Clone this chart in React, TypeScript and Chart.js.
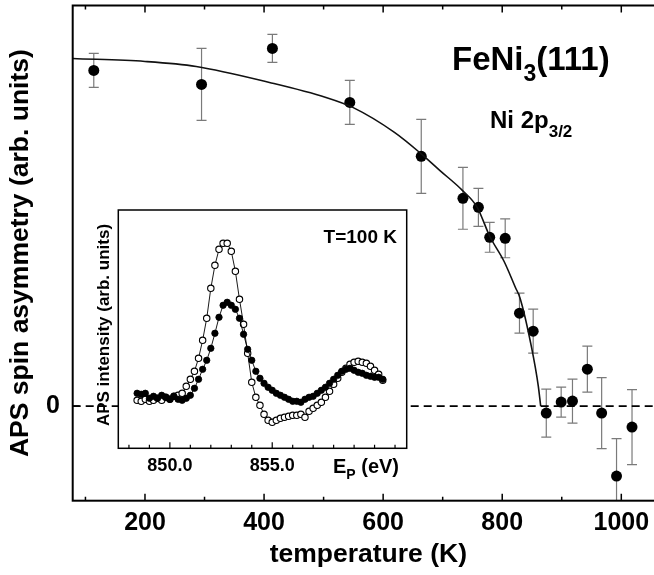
import React, { useEffect, useRef } from "react";
import { Chart, registerables } from "chart.js";
Chart.register(...registerables);

// ---- main panel data ----
const tempK = [114, 295, 414, 544, 664, 734, 760, 779, 805, 829, 852, 874, 899, 918, 943, 967, 992, 1018];
const asym = [33.6, 32.2, 35.8, 30.4, 25.0, 20.8, 19.9, 16.9, 16.8, 9.3, 7.5, -0.7, 0.4, 0.5, 3.7, -0.7, -7.0, -2.1];
const asymErr = [1.7, 3.6, 1.4, 2.2, 3.7, 3.1, 1.9, 1.5, 1.95, 2.0, 2.2, 2.4, 1.5, 2.2, 2.3, 3.55, 3.75, 3.75];
const fitT = [78.6, 200, 286, 409, 504, 549, 619, 663, 695, 733, 758, 779, 803, 822, 830, 849.5, 860.6, 864.6];
const fitA = [34.8, 34.5, 34.0, 32.4, 30.9, 29.9, 27.4, 25.3, 23.6, 21.6, 19.9, 17.0, 14.5, 11.9, 10.8, 5.8, 2.0, 0];
const xMajorTicks = [200, 400, 600, 800, 1000];
const xMinorTicks = [100, 300, 500, 700, 900];
const yTickLabels = [0];
const xRange = [78.6, 1065];
const yRange = [-9.47, 40.1];

// ---- inset data ----
const energy = [
  848.4, 848.6, 848.8, 849.0, 849.2, 849.4, 849.6, 849.8, 850.0, 850.2,
  850.4, 850.6, 850.8, 851.0, 851.2, 851.4, 851.6, 851.8, 852.0, 852.2,
  852.4, 852.6, 852.8, 853.0, 853.2, 853.4, 853.6, 853.8, 854.0, 854.2,
  854.4, 854.6, 854.8, 855.0, 855.2, 855.4, 855.6, 855.8, 856.0, 856.2,
  856.4, 856.6, 856.8, 857.0, 857.2, 857.4, 857.6, 857.8, 858.0, 858.2,
  858.4, 858.6, 858.8, 859.0, 859.2, 859.4, 859.6, 859.8, 860.0, 860.2, 860.4,
];
const openInt = [
  48, 47, 49, 47, 48, 50, 48, 51, 49, 52,
  53, 55, 62, 69, 77, 90, 108, 130, 160, 183,
  199, 205, 205, 197, 177, 149, 124, 95, 66, 51,
  43, 34, 28, 26, 28, 30, 31, 32, 33, 33,
  34, 31, 37, 40, 43, 46, 51, 57, 64, 70,
  76, 80, 84, 86, 87, 86, 85, 82, 78, 74, 68,
];
const filledInt = [
  55, 54, 55, 50, 52, 50, 53, 51, 49, 52,
  49, 48, 50, 53, 60, 69, 79, 88, 100, 115,
  131, 143, 146, 143, 139, 130, 114, 99, 88, 77,
  70, 65, 61, 58, 55, 53, 51, 49, 47, 47,
  46, 49, 51, 52, 55, 58, 61, 65, 69, 73,
  77, 79, 80, 78, 76, 75, 73, 72, 71, 71, 69,
];
const insetTicks = [848, 849, 850, 851, 852, 853, 854, 855, 856, 857, 858, 859, 860, 861];
const insetLabels = [850, 855];
const insetXRange = [847.48, 861.57];
const insetYRange = [0, 238.3];

const FONT = '"Liberation Sans", Arial, Helvetica, sans-serif';

export default function App() {
  const mainRef = useRef<HTMLCanvasElement>(null);
  const insetRef = useRef<HTMLCanvasElement>(null);

  useEffect(() => {
    const mainDecor = {
      id: "mainDecor",
      beforeDatasetsDraw(chart: any) {
        const { ctx, chartArea: a, scales } = chart;
        const xs = scales.x, ys = scales.y;
        ctx.save();
        ctx.beginPath();
        ctx.rect(a.left, a.top, a.right - a.left, a.bottom - a.top);
        ctx.clip();
        ctx.strokeStyle = "#7a7a7a";
        ctx.lineWidth = 1.2;
        tempK.forEach((t, i) => {
          const x = xs.getPixelForValue(t);
          const y1 = ys.getPixelForValue(asym[i] + asymErr[i]);
          const y2 = ys.getPixelForValue(asym[i] - asymErr[i]);
          ctx.beginPath();
          ctx.moveTo(x, y1); ctx.lineTo(x, y2);
          ctx.moveTo(x - 5, y1); ctx.lineTo(x + 5, y1);
          ctx.moveTo(x - 5, y2); ctx.lineTo(x + 5, y2);
          ctx.stroke();
        });
        ctx.restore();
      },
      afterDraw(chart: any) {
        const { ctx, chartArea: a, scales } = chart;
        const xs = scales.x, ys = scales.y;
        ctx.save();
        ctx.strokeStyle = "#000";
        ctx.lineWidth = 2;
        ctx.strokeRect(a.left, a.top, a.right - a.left, a.bottom - a.top);
        ctx.lineWidth = 1.5;
        ctx.beginPath();
        xMajorTicks.forEach((t) => {
          const x = xs.getPixelForValue(t);
          ctx.moveTo(x, a.bottom); ctx.lineTo(x, a.bottom - 7);
          ctx.moveTo(x, a.top); ctx.lineTo(x, a.top + 7);
        });
        xMinorTicks.forEach((t) => {
          const x = xs.getPixelForValue(t);
          ctx.moveTo(x, a.bottom); ctx.lineTo(x, a.bottom - 4);
          ctx.moveTo(x, a.top); ctx.lineTo(x, a.top + 4);
        });
        yTickLabels.forEach((v) => {
          const y = ys.getPixelForValue(v);
          ctx.moveTo(a.left, y); ctx.lineTo(a.left + 7, y);
        });
        ctx.stroke();

        ctx.fillStyle = "#000";
        ctx.font = `bold 25px ${FONT}`;
        ctx.textAlign = "center";
        ctx.textBaseline = "middle";
        xMajorTicks.forEach((t) => {
          ctx.fillText(String(t), xs.getPixelForValue(t), 523);
        });
        ctx.textAlign = "right";
        yTickLabels.forEach((v) => {
          ctx.fillText(String(v), 60, ys.getPixelForValue(v));
        });
        ctx.font = `bold 26.5px ${FONT}`;
        ctx.textAlign = "center";
        ctx.fillText("temperature (K)", (a.left + a.right) / 2 + 2, 555);
        ctx.save();
        ctx.translate(21, (a.top + a.bottom) / 2);
        ctx.rotate(-Math.PI / 2);
        ctx.fillText("APS spin asymmetry (arb. units)", 0, 0);
        ctx.restore();

        // label FeNi3(111)
        ctx.textAlign = "left";
        ctx.textBaseline = "alphabetic";
        let x = 452;
        ctx.font = `bold 33px ${FONT}`;
        ctx.fillText("FeNi", x, 70);
        x += ctx.measureText("FeNi").width;
        ctx.font = `bold 23px ${FONT}`;
        ctx.fillText("3", x, 81);
        x += ctx.measureText("3").width;
        ctx.font = `bold 33px ${FONT}`;
        ctx.fillText("(111)", x, 70);

        x = 490;
        ctx.font = `bold 24px ${FONT}`;
        ctx.fillText("Ni 2p", x, 128);
        x += ctx.measureText("Ni 2p").width;
        ctx.font = `bold 17px ${FONT}`;
        ctx.fillText("3/2", x, 137);
        ctx.restore();
      },
    };

    const main = new Chart(mainRef.current!, {
      type: "scatter",
      data: {
        datasets: [
          {
            type: "line",
            data: xRange.map((t) => ({ x: t, y: yTickLabels[0] })),
            borderColor: "#000",
            borderWidth: 1.6,
            borderDash: [8, 5],
            pointRadius: 0,
          } as any,
          {
            type: "line",
            data: fitT.map((t, i) => ({ x: t, y: fitA[i] })),
            borderColor: "#111",
            borderWidth: 1.6,
            pointRadius: 0,
            cubicInterpolationMode: "monotone",
          } as any,
          {
            data: tempK.map((t, i) => ({ x: t, y: asym[i] })),
            backgroundColor: "#000",
            borderColor: "#000",
            pointRadius: 5.5,
            borderWidth: 0,
          },
        ],
      },
      options: {
        animation: false,
        responsive: false,
        devicePixelRatio: 1,
        layout: { padding: { left: 72.7, right: 40, top: 5, bottom: 74.3 } },
        plugins: { legend: { display: false }, tooltip: { enabled: false } },
        scales: {
          x: { type: "linear", min: xRange[0], max: xRange[1], display: false },
          y: { type: "linear", min: yRange[0], max: yRange[1], display: false },
        },
      },
      plugins: [mainDecor],
    });

    const insetDecor = {
      id: "insetDecor",
      beforeDatasetsDraw(chart: any) {
        const { ctx, chartArea: a } = chart;
        ctx.save();
        ctx.fillStyle = "#fff";
        ctx.fillRect(a.left, a.top, a.right - a.left, a.bottom - a.top);
        ctx.restore();
      },
      afterDraw(chart: any) {
        const { ctx, chartArea: a, scales } = chart;
        const xs = scales.x;
        ctx.save();
        ctx.strokeStyle = "#000";
        ctx.lineWidth = 1.5;
        ctx.strokeRect(a.left, a.top, a.right - a.left, a.bottom - a.top);
        ctx.lineWidth = 1.2;
        ctx.beginPath();
        insetTicks.forEach((t) => {
          const x = xs.getPixelForValue(t);
          const len = insetLabels.includes(t) ? 6 : 3.5;
          ctx.moveTo(x, a.bottom); ctx.lineTo(x, a.bottom - len);
        });
        ctx.stroke();
        ctx.fillStyle = "#000";
        ctx.font = `bold 18px ${FONT}`;
        ctx.textAlign = "center";
        ctx.textBaseline = "middle";
        insetLabels.forEach((t) => {
          ctx.fillText(t.toFixed(1), xs.getPixelForValue(t), 466.5);
        });
        ctx.textAlign = "left";
        ctx.textBaseline = "alphabetic";
        let x = 333;
        ctx.font = `bold 20px ${FONT}`;
        ctx.fillText("E", x, 473);
        x += ctx.measureText("E").width;
        ctx.font = `bold 14px ${FONT}`;
        ctx.fillText("P", x, 479);
        x += ctx.measureText("P").width;
        ctx.font = `bold 20px ${FONT}`;
        ctx.fillText(" (eV)", x, 473);

        ctx.textAlign = "right";
        ctx.font = `bold 19px ${FONT}`;
        ctx.fillText("T=100 K", 397, 243);

        ctx.textAlign = "center";
        ctx.textBaseline = "middle";
        ctx.font = `bold 17px ${FONT}`;
        ctx.translate(104, 325);
        ctx.rotate(-Math.PI / 2);
        ctx.fillText("APS intensity (arb. units)", 0, 0);
        ctx.restore();
      },
    };

    const inset = new Chart(insetRef.current!, {
      type: "line",
      data: {
        datasets: [
          {
            data: energy.map((e, i) => ({ x: e, y: filledInt[i] })),
            borderColor: "#000",
            borderWidth: 0.9,
            backgroundColor: "#000",
            pointBackgroundColor: "#000",
            pointBorderColor: "#000",
            pointRadius: 3.2,
            pointBorderWidth: 0.8,
            tension: 0,
          },
          {
            data: energy.map((e, i) => ({ x: e, y: openInt[i] })),
            borderColor: "#000",
            borderWidth: 0.9,
            pointBackgroundColor: "#fff",
            pointBorderColor: "#000",
            pointRadius: 3.2,
            pointBorderWidth: 1.1,
            tension: 0,
          },
        ],
      },
      options: {
        animation: false,
        responsive: false,
        devicePixelRatio: 1,
        layout: { padding: { left: 118.3, right: 247.3, top: 210, bottom: 126.7 } },
        plugins: { legend: { display: false }, tooltip: { enabled: false } },
        scales: {
          x: { type: "linear", min: insetXRange[0], max: insetXRange[1], display: false },
          y: { type: "linear", min: insetYRange[0], max: insetYRange[1], display: false },
        },
      },
      plugins: [insetDecor],
    });

    return () => {
      main.destroy();
      inset.destroy();
    };
  }, []);

  return (
    <div
      style={{
        position: "fixed",
        left: 0,
        top: 0,
        width: 654,
        height: 575,
        overflow: "hidden",
        background: "#fff",
      }}
    >
      <canvas
        ref={mainRef}
        width={700}
        height={575}
        style={{ position: "absolute", left: 0, top: 0 }}
      />
      <canvas
        ref={insetRef}
        width={654}
        height={575}
        style={{ position: "absolute", left: 0, top: 0 }}
      />
    </div>
  );
}
